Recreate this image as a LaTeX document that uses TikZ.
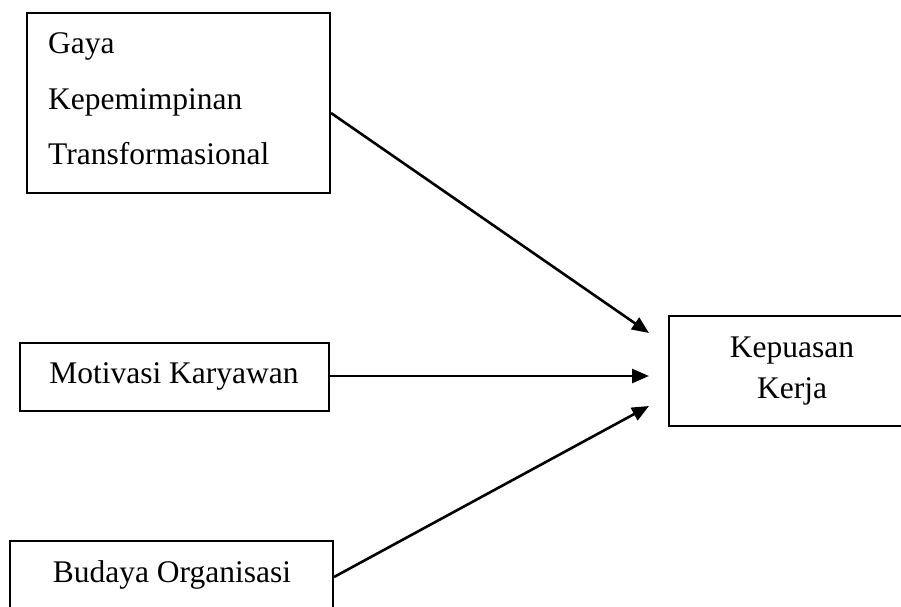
\documentclass[tikz,border=0pt]{standalone}
\usepackage{fontspec}
\setmainfont{Liberation Serif}
\usetikzlibrary{arrows.meta}
\begin{document}
\begin{tikzpicture}[x=1pt,y=1pt,
  box/.style={draw=black,line width=2pt,rectangle,inner sep=0pt},
  lbl/.style={inner sep=0pt,font=\fontsize{31.5}{38}\selectfont},
  arr/.style={line width=2.6pt,-{Triangle[length=17pt,width=14pt]}}]
\useasboundingbox[fill=white] (0,0) rectangle (901,-606);
% boxes
\node[box,minimum width=303pt,minimum height=180pt] (g) at (178.5,-103) {};
\node[box,minimum width=309pt,minimum height=68pt] (m) at (174.5,-377) {};
\node[box,minimum width=323pt,minimum height=69pt] (b) at (171.5,-575.5) {};
\node[box,minimum width=246pt,minimum height=110pt] (k) at (792,-371) {};
% texts
\node[lbl,anchor=base west] (g1) at (48,-53) {Gaya};
\node[lbl,anchor=base west] (g2) at (48,-109) {Kepemimpinan};
\node[lbl,anchor=base west] (g3) at (48,-164) {Transformasional};
\node[lbl,anchor=base] (mt) at (174,-383) {Motivasi Karyawan};
\node[lbl,anchor=base] (bt) at (172,-582) {Budaya Organisasi};
\node[lbl,anchor=base] (k1) at (792,-357) {Kepuasan};
\node[lbl,anchor=base] (k2) at (792,-398) {Kerja};
% arrow tips
\coordinate (t1) at ([xshift=-19pt,yshift=38pt]k.west);
\coordinate (t2) at ([xshift=-19pt,yshift=-5pt]k.west);
\coordinate (t3) at ([xshift=-19pt,yshift=-35pt]k.west);
\draw[arr] ([yshift=-10pt]g.east) -- (t1);
\draw[arr] ([yshift=1pt]m.east) -- (t2);
\draw[arr] ([yshift=-1.5pt]b.east) -- (t3);
\end{tikzpicture}
\end{document}
